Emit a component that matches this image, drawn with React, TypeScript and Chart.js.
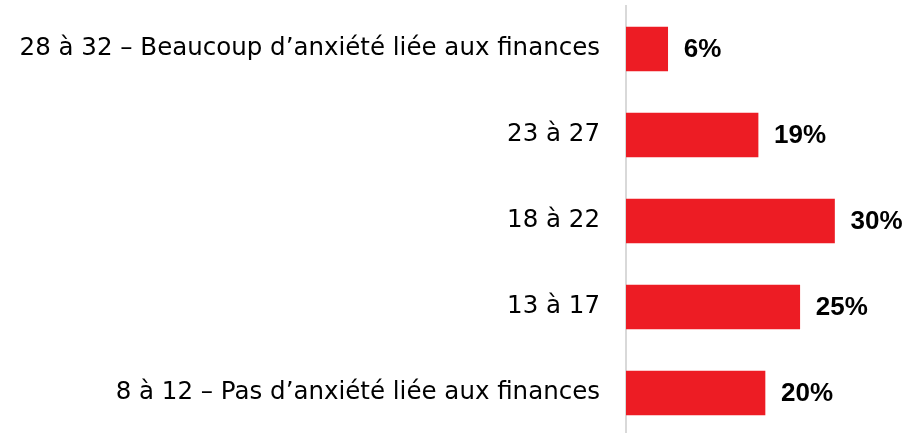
import React, { useEffect, useRef } from "react";
import { Chart, registerables } from "chart.js";

Chart.register(...registerables);

const categories = [
  "28 à 32 – Beaucoup d’anxiété liée aux finances",
  "23 à 27",
  "18 à 22",
  "13 à 17",
  "8 à 12 – Pas d’anxiété liée aux finances",
];
const values = [6, 19, 30, 25, 20];
const valueLabels = ["6%", "19%", "30%", "25%", "20%"];

const FONT = "'DejaVu Sans', sans-serif";
const VFONT = "'Liberation Sans', Arial, sans-serif";

const valueLabelPlugin = {
  id: "valueLabels",
  afterDatasetsDraw(chart: any) {
    const ctx = chart.ctx;
    const meta = chart.getDatasetMeta(0);
    ctx.save();
    ctx.font = `bold 26px ${VFONT}`;
    ctx.fillStyle = "#000000";
    ctx.textAlign = "left";
    ctx.textBaseline = "middle";
    meta.data.forEach((bar: any, i: number) => {
      ctx.fillText(valueLabels[i], bar.x + 16, bar.y + 1);
    });
    ctx.restore();
  },
};

export default function App() {
  const ref = useRef<HTMLCanvasElement | null>(null);
  useEffect(() => {
    document.body.style.margin = "0";
    const chart = new Chart(ref.current!, {
      type: "bar",
      data: {
        labels: categories,
        datasets: [
          {
            data: values,
            backgroundColor: "#ED1C24",
            barThickness: 44,
          },
        ],
      },
      options: {
        indexAxis: "y",
        animation: false,
        responsive: false,
        layout: { padding: { top: 6, right: 7, bottom: 0, left: 0 } },
        plugins: { legend: { display: false }, tooltip: { enabled: false } },
        scales: {
          x: {
            min: 0,
            max: 40,
            display: false,
          },
          y: {
            afterFit(scale: any) {
              scale.width = 626;
              scale.paddingTop = 0;
              scale.paddingBottom = 0;
            },
            grid: { display: false, drawTicks: false },
            border: { display: true, color: "#D9D9D9", width: 2 },
            ticks: {
              color: "#000000",
              padding: 26,
              font: { family: FONT, size: 24.5 },
            },
          },
        },
      },
      plugins: [valueLabelPlugin],
    });
    return () => chart.destroy();
  }, []);
  return (
    <div style={{ width: 911, height: 433, overflow: "hidden" }}>
      <canvas ref={ref} width={911} height={436} style={{ display: "block" }} />
    </div>
  );
}
